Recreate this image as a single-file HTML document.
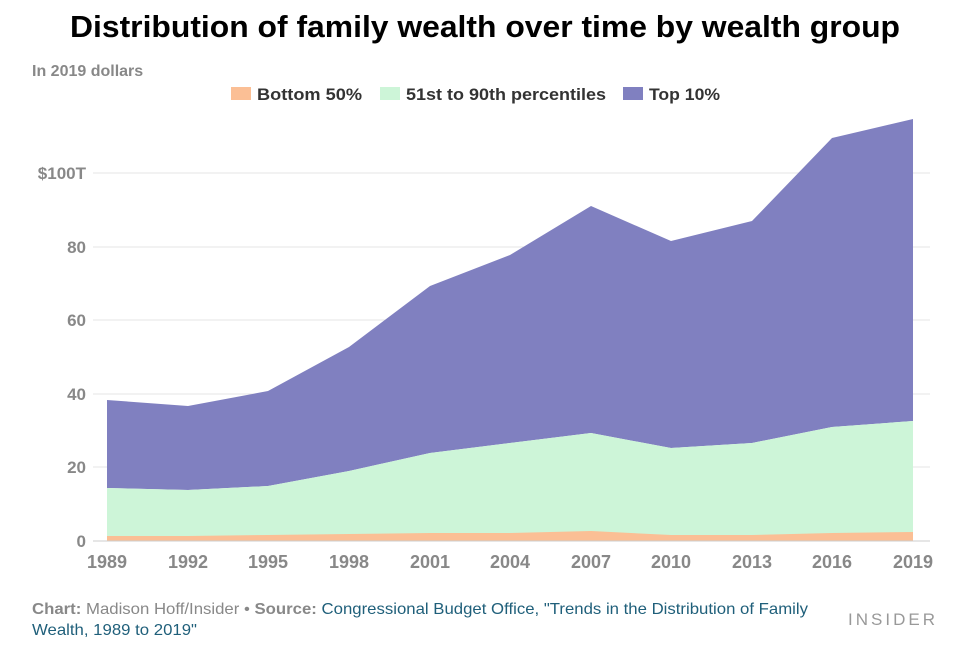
<!DOCTYPE html>
<html><head><meta charset="utf-8"><style>
html,body{margin:0;padding:0;background:#fff;}
body{width:955px;height:648px;overflow:hidden;font-family:"Liberation Sans",sans-serif;}
</style></head><body>
<svg width="955" height="648" xmlns="http://www.w3.org/2000/svg" font-family="Liberation Sans, sans-serif">
<text x="485" y="37" text-anchor="middle" font-size="31" font-weight="bold" fill="#000" textLength="830" lengthAdjust="spacingAndGlyphs">Distribution of family wealth over time by wealth group</text>
<text x="32" y="76" font-size="16" font-weight="bold" fill="#888">In 2019 dollars</text>
<rect x="231" y="87" width="20" height="13" fill="#fbbf95"/>
<text x="257" y="100" font-size="17" font-weight="bold" fill="#333" textLength="105" lengthAdjust="spacingAndGlyphs">Bottom 50%</text>
<rect x="380" y="87" width="20" height="13" fill="#cdf5d8"/>
<text x="406" y="100" font-size="17" font-weight="bold" fill="#333" textLength="200" lengthAdjust="spacingAndGlyphs">51st to 90th percentiles</text>
<rect x="623" y="87" width="20" height="13" fill="#8080c0"/>
<text x="649" y="100" font-size="17" font-weight="bold" fill="#333" textLength="71" lengthAdjust="spacingAndGlyphs">Top 10%</text>
<g stroke="#e6e6e6" stroke-width="1">
<line x1="93" x2="930" y1="173" y2="173"/><line x1="93" x2="930" y1="247" y2="247"/>
<line x1="93" x2="930" y1="320" y2="320"/><line x1="93" x2="930" y1="394" y2="394"/>
<line x1="93" x2="930" y1="467" y2="467"/>
</g>
<g font-size="17" font-weight="bold" fill="#888" text-anchor="end">
<text x="86" y="179">$100T</text><text x="86" y="253">80</text><text x="86" y="326">60</text>
<text x="86" y="400">40</text><text x="86" y="473">20</text><text x="86" y="547">0</text>
</g>
<polygon fill="#8080c0" points="107,400 188,406 268,391 349,347 430,286 510,255 591,206 671,241 752,221 832,138 913,119 913,421 832,427 752,443 671,448 591,433 510,443 430,453 349,471 268,486 188,490 107,488"/>
<polygon fill="#cdf5d8" points="107,488 188,490 268,486 349,471 430,453 510,443 591,433 671,448 752,443 832,427 913,421 913,541 107,541"/>
<polygon fill="#fbbf95" points="107,536 188,536 268,535 349,534 430,533 510,533 591,531 671,535 752,535 832,533 913,532 913,541 107,541"/>
<line x1="93" x2="930" y1="541" y2="541" stroke="#ccc"/>
<g font-size="18" font-weight="bold" fill="#888" text-anchor="middle">
<text x="107" y="568">1989</text><text x="188" y="568">1992</text><text x="268" y="568">1995</text>
<text x="349" y="568">1998</text><text x="430" y="568">2001</text><text x="510" y="568">2004</text>
<text x="591" y="568">2007</text><text x="671" y="568">2010</text><text x="752" y="568">2013</text>
<text x="832" y="568">2016</text><text x="913" y="568">2019</text>
</g>
<text x="32" y="614" font-size="16" fill="#888" textLength="776" lengthAdjust="spacingAndGlyphs"><tspan font-weight="bold">Chart:</tspan> Madison Hoff/Insider • <tspan font-weight="bold">Source:</tspan> <tspan fill="#1f5f7a">Congressional Budget Office, "Trends in the Distribution of Family</tspan></text>
<text x="32" y="635" font-size="16" fill="#1f5f7a" textLength="165" lengthAdjust="spacingAndGlyphs">Wealth, 1989 to 2019"</text>
<text x="938" y="625" font-size="17" fill="#999" text-anchor="end" letter-spacing="3">INSIDER</text>
</svg>
</body></html>
